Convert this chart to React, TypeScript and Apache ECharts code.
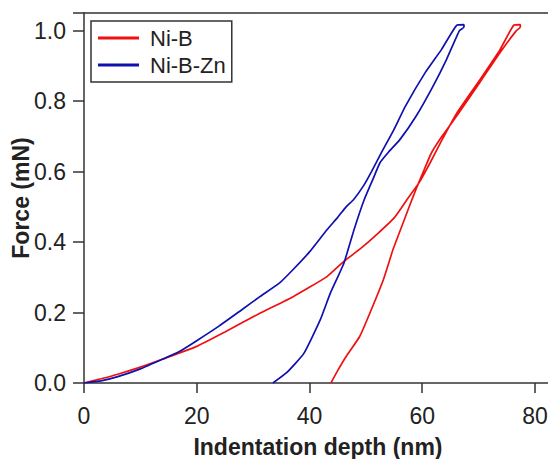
import React, { useEffect, useRef } from "react";
import * as echarts from "echarts";

// Ni-B: loading then unloading (depth nm, force mN)
const niBX = [0, 3, 6, 10, 14, 20, 25, 31.2, 37.1, 43.1, 46.1, 49.1, 52.1, 55.1, 57.5, 59.5, 61.4, 63.5, 66.1, 70.2, 73.8, 76.2, 77.4,
  77.4, 76.7, 73.9, 70.3, 66.2, 63.5, 61.6, 60.2, 58.9, 57.8, 56.6, 54.8, 53.1, 50.7, 48.9, 46.5, 45, 43.8];
const niBY = [0, 0.012, 0.025, 0.045, 0.068, 0.104, 0.145, 0.198, 0.245, 0.302, 0.345, 0.382, 0.424, 0.47, 0.525, 0.57, 0.625, 0.69, 0.765, 0.86, 0.946, 1.015, 1.017,
  1.01, 1.0, 0.94, 0.855, 0.76, 0.7, 0.652, 0.6, 0.55, 0.505, 0.454, 0.378, 0.293, 0.198, 0.132, 0.075, 0.035, 0];

// Ni-B-Zn: loading then unloading
const niBZnX = [0, 3, 6, 10, 14, 17, 20, 24, 28, 31.2, 34.7, 37.1, 40, 43.1, 45, 46.5, 47.8, 49.6, 51, 52.8, 55, 57, 60.5, 63.4, 66.1, 67.4,
  67.4, 66.6, 64.3, 61.9, 58.9, 56, 54, 52.5, 51.3, 49.7, 47.9, 46.1, 43.7, 41.9, 39, 36, 33.5];
const niBZnY = [0, 0.006, 0.018, 0.04, 0.068, 0.09, 0.12, 0.162, 0.208, 0.245, 0.284, 0.322, 0.372, 0.435, 0.47, 0.5, 0.52, 0.56, 0.6, 0.655, 0.72, 0.785, 0.88, 0.946, 1.015, 1.017,
  1.01, 1.0, 0.918, 0.842, 0.757, 0.69, 0.655, 0.625, 0.58, 0.52, 0.435, 0.34, 0.255, 0.179, 0.084, 0.03, 0];

const seriesNames = ["Ni-B", "Ni-B-Zn"];
const yTicks = [0, 0.2, 0.4, 0.6, 0.8, 1.0];

const zip = (xs: number[], ys: number[]) => xs.map((x, i) => [x, ys[i]]);

const FONT = "'Liberation Sans', Arial, sans-serif";
const TEXT = "#222";
const AXIS = "#333";

export default function App() {
  const ref = useRef<HTMLDivElement>(null);
  useEffect(() => {
    if (!ref.current) return;
    const chart = echarts.init(ref.current, undefined, { renderer: "svg" });
    chart.setOption({
      animation: false,
      backgroundColor: "#fff",
      grid: { left: 84, right: 8.1, top: 13, bottom: 76, containLabel: false, outerBoundsMode: "none" },
      legend: {
        orient: "vertical",
        left: 91,
        top: 21,
        data: seriesNames,
        icon: "rect",
        itemWidth: 41,
        itemHeight: 3,
        itemGap: 5,
        padding: [6, 6, 6, 7],
        borderColor: AXIS,
        borderWidth: 1.5,
        backgroundColor: "#fff",
        textStyle: { fontFamily: FONT, fontSize: 22, color: TEXT, lineHeight: 22, padding: [0, 0, 0, 6] },
      },
      xAxis: [
        {
          type: "value",
          position: "bottom",
          min: 0,
          max: 83,
          interval: 20,
          name: "Indentation depth (nm)",
          nameLocation: "middle",
          nameGap: 52,
          nameMoveOverlap: false,
          nameTextStyle: { fontFamily: FONT, fontSize: 23, fontWeight: "bold", color: TEXT, lineHeight: 24 },
          axisLine: { show: true, lineStyle: { color: AXIS, width: 1.5 } },
          axisTick: { show: true, inside: false, length: 10, lineStyle: { color: AXIS, width: 1.5 } },
          axisLabel: {
            fontFamily: FONT, fontSize: 23, color: TEXT, margin: 21,
            formatter: (v: number) => (v <= 80 ? String(v) : ""),
          },
          splitLine: { show: false },
        },
        {
          type: "value",
          position: "top",
          min: 0,
          max: 83,
          axisLine: { show: true, onZero: false, lineStyle: { color: AXIS, width: 1.5 } },
          axisTick: { show: false },
          axisLabel: { show: false },
          splitLine: { show: false },
        },
      ],
      yAxis: {
        type: "value",
        min: 0,
        max: 1.05,
        interval: 0.2,
        name: "Force (mN)",
        nameLocation: "middle",
        nameGap: 52,
        nameMoveOverlap: false,
        nameTextStyle: { fontFamily: FONT, fontSize: 23, fontWeight: "bold", color: TEXT },
        axisLine: { show: true, lineStyle: { color: AXIS, width: 1.5 } },
        axisTick: { show: true, inside: false, length: 11, lineStyle: { color: AXIS, width: 1.5 } },
        axisLabel: {
          fontFamily: FONT, fontSize: 23, color: TEXT, margin: 18,
          formatter: (v: number) => (yTicks.some((t) => Math.abs(t - v) < 1e-6) ? v.toFixed(1) : ""),
        },
        splitLine: { show: false },
      },
      series: [
        {
          name: seriesNames[0],
          type: "line",
          xAxisIndex: 0,
          data: zip(niBX, niBY),
          showSymbol: false,
          symbol: "none",
          lineStyle: { color: "#f01010", width: 1.7 },
          itemStyle: { color: "#f01010" },
          smooth: 0.15,
        },
        {
          name: seriesNames[1],
          type: "line",
          xAxisIndex: 0,
          data: zip(niBZnX, niBZnY),
          showSymbol: false,
          symbol: "none",
          lineStyle: { color: "#1010b0", width: 1.7 },
          itemStyle: { color: "#1010b0" },
          smooth: 0.15,
        },
      ],
    });
    return () => chart.dispose();
  }, []);
  return (
    <div style={{ position: "absolute", left: 0, top: 0, width: 548, height: 459, overflow: "hidden", background: "#fff" }}>
      <div ref={ref} style={{ width: 560, height: 459 }} />
    </div>
  );
}
